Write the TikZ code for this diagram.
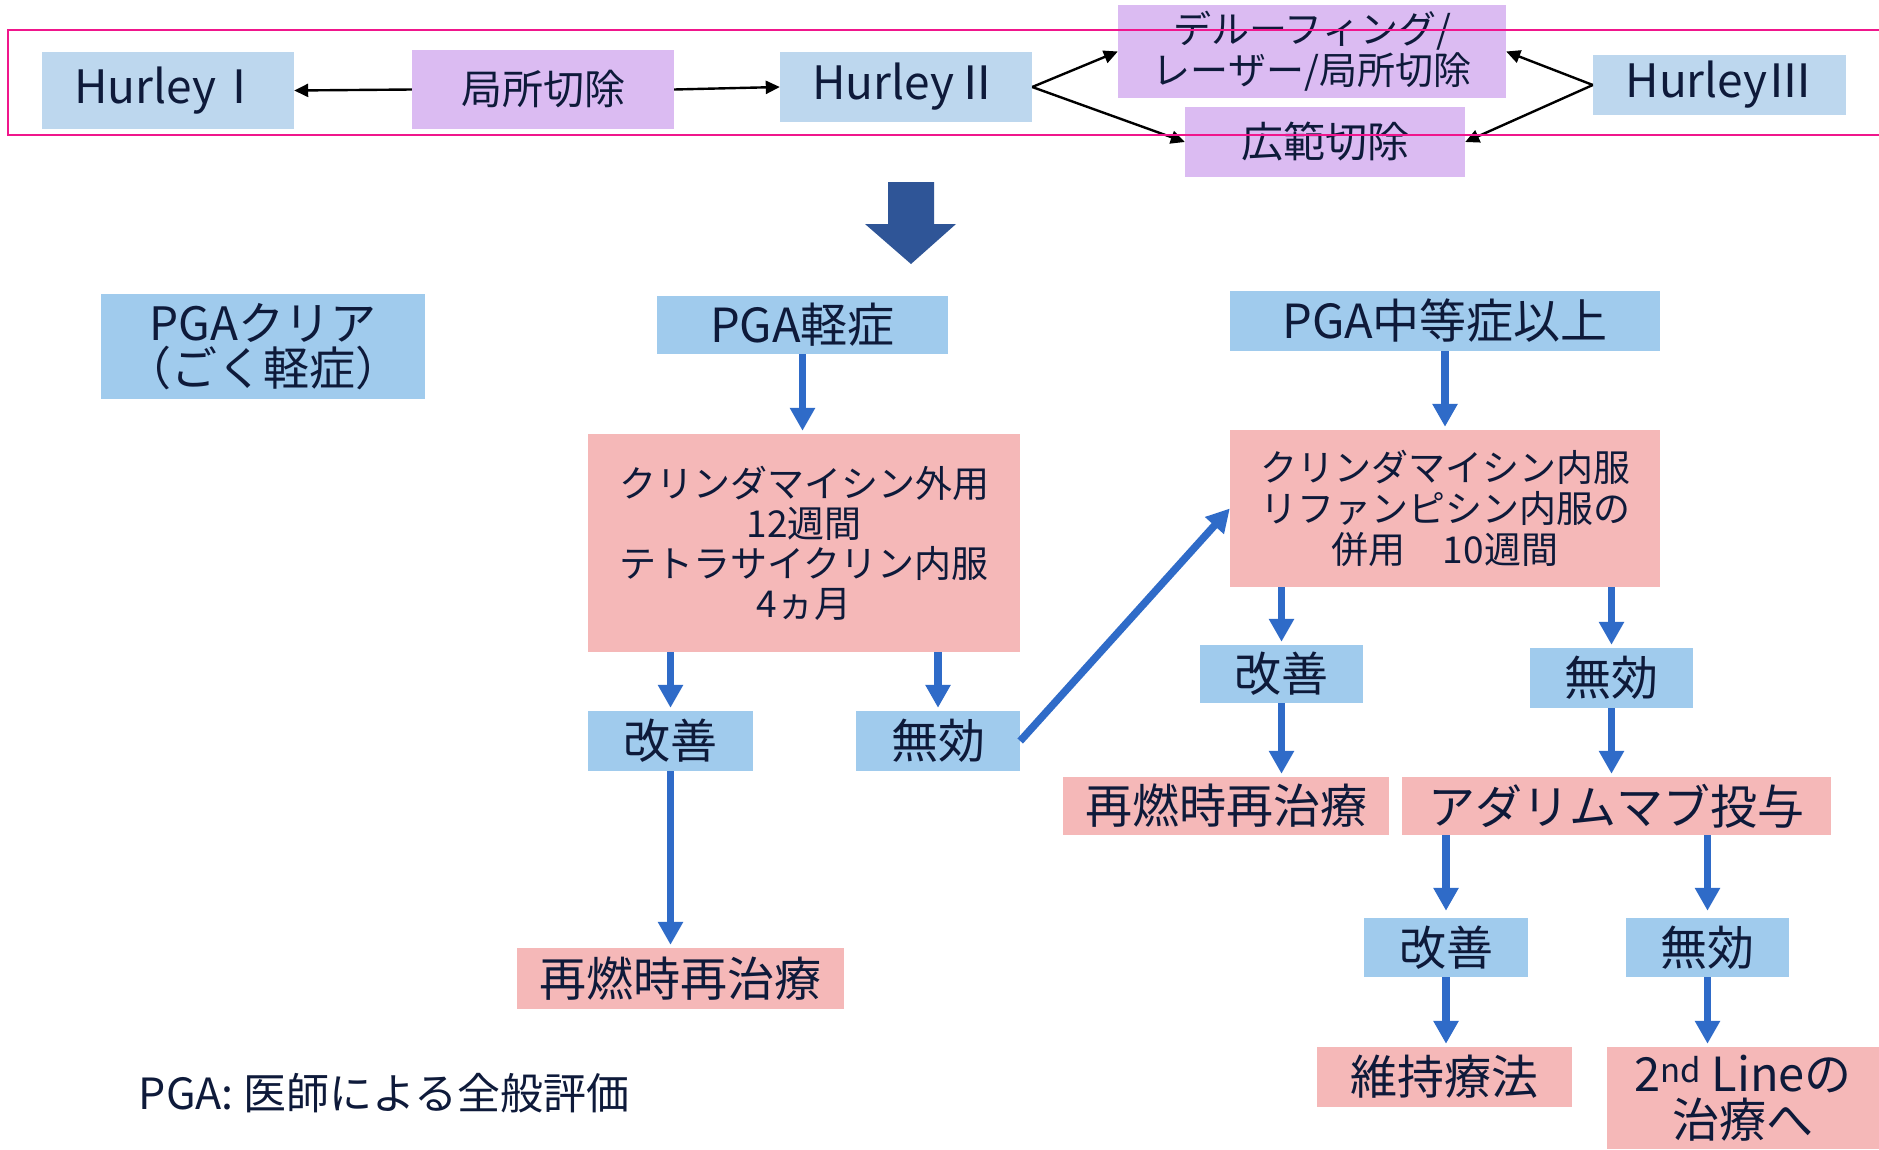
\documentclass[tikz,border=0pt]{standalone}
\usepackage{fontspec}
\setmainfont{Noto Sans CJK JP}
\usetikzlibrary{arrows.meta}
\definecolor{hblue}{HTML}{BDD7EE}
\definecolor{lblue}{HTML}{A0CBED}
\definecolor{purp}{HTML}{DBBBF2}
\definecolor{pinkf}{HTML}{F5B8B8}
\definecolor{txt}{HTML}{0E1A3A}
\definecolor{ablue}{HTML}{2F6BC8}
\definecolor{bigblue}{HTML}{2F5597}
\definecolor{frameline}{HTML}{F0168C}
\begin{document}
\begin{tikzpicture}[x=1pt,y=-1pt,
  base/.style={inner sep=0pt, text=txt, align=center},
  hbox/.style={base, fill=hblue, font=\fontsize{46}{48}\selectfont},
  pbox/.style={base, fill=purp},
  lbox/.style={base, fill=lblue, font=\fontsize{47}{48}\selectfont},
  rbox/.style={base, fill=pinkf, font=\fontsize{47}{48}\selectfont},
  sz/.style 2 args={minimum width=#1, minimum height=#2},
  barrow/.style={draw=ablue, line width=7.5pt, -{Triangle[width=24pt,length=23pt]}, shorten >=3pt},
  karrow/.style={draw=black, line width=2.4pt, -{Triangle[width=13pt,length=14pt]}},
]
\fill[white] (0,0) rectangle (1879,1149);
\useasboundingbox (0,0) rectangle (1879,1149);

% top row
\node[hbox, sz={252}{77}] (h1) at (168,90.5) {HurleyⅠ};
\node[pbox, sz={262}{79}, font=\fontsize{41}{44}\selectfont] (kyoku) at (543,89.5) {局所切除};
\node[hbox, sz={252}{70}] (h2) at (906,87) {HurleyⅡ};
\node[pbox, sz={388}{93}, font=\fontsize{38}{41}\selectfont] (deroof) at (1312,51.5) {デルーフィング/\\レーザー/局所切除};
\node[pbox, sz={280}{70}, font=\fontsize{42}{44}\selectfont] (kouhan) at (1325,142) {広範切除};
\node[hbox, sz={253}{60}] (h3) at (1719.5,85) {HurleyⅢ};

\draw[karrow] (kyoku.west) -- (h1.east);
\draw[karrow] (kyoku.east) -- (h2.west);
\draw[karrow] (h2.east) -- (deroof.west);
\draw[karrow] (h2.east) -- (kouhan.west);
\draw[karrow] (h3.west) -- (deroof.east);
\draw[karrow] (h3.west) -- (kouhan.east);

\draw[frameline, line width=2.8pt] (8,30) rectangle (1895,135);

% big arrow
\fill[bigblue] (888,182) -- (934,182) -- (934,224) -- (956,224) -- (911,264) -- (865,224) -- (888,224) -- cycle;

% PGA level
\node[lbox, sz={324}{105}, font=\fontsize{46}{45}\selectfont] (clear) at (263,346.5) {PGAクリア\\（ごく軽症）};
\node[lbox, sz={291}{58}] (mild) at (802.5,325) {PGA軽症};
\node[lbox, sz={430}{60}] (mod) at (1445,321) {PGA中等症以上};

\node[rbox, sz={432}{218}, font=\fontsize{37}{40}\selectfont] (box1) at (804,543) {クリンダマイシン外用\\12週間\\テトラサイクリン内服\\4ヵ月};
\node[rbox, sz={430}{157}, font=\fontsize{37}{41}\selectfont] (box2) at (1445,508.5) {クリンダマイシン内服\\リファンピシン内服の\\併用　10週間};

\node[lbox, sz={165}{60}] (kai1) at (670.5,741) {改善};
\node[lbox, sz={164}{60}] (mu1) at (938,741) {無効};
\node[rbox, sz={327}{61}] (sai1) at (680.5,978.5) {再燃時再治療};

\node[lbox, sz={163}{58}] (kai2) at (1281.5,674) {改善};
\node[lbox, sz={163}{60}] (mu2) at (1611.5,678) {無効};
\node[rbox, sz={326}{58}] (sai2) at (1226,806) {再燃時再治療};
\node[rbox, sz={429}{58}] (ada) at (1616.5,806) {アダリムマブ投与};

\node[lbox, sz={164}{59}] (kai3) at (1446,947.5) {改善};
\node[lbox, sz={163}{59}] (mu3) at (1707.5,947.5) {無効};
\node[rbox, sz={255}{60}] (iji) at (1444.5,1077) {維持療法};
\node[rbox, sz={272}{102}, font=\fontsize{47}{46}\selectfont] (second) at (1743,1098) {2\textsuperscript{nd} Lineの\\治療へ};

\node[base, font=\fontsize{43}{46}\selectfont] (note) at (384,1093) {PGA: 医師による全般評価};

% blue arrows
\draw[barrow] (mild.south) -- (mild.south |- box1.north);
\draw[barrow] (mod.south) -- (mod.south |- box2.north);
\draw[barrow] (box1.south -| kai1.north) -- (kai1.north);
\draw[barrow] (box1.south -| mu1.north) -- (mu1.north);
\draw[barrow] (kai1.south) -- (kai1.south |- sai1.north);
\draw[barrow, shorten >=0pt] (mu1.east) -- (box2.west);
\draw[barrow] (box2.south -| kai2.north) -- (kai2.north);
\draw[barrow] (box2.south -| mu2.north) -- (mu2.north);
\draw[barrow] (kai2.south) -- (kai2.south |- sai2.north);
\draw[barrow] (mu2.south) -- (mu2.south |- ada.north);
\draw[barrow] (ada.south -| kai3.north) -- ([yshift=4pt]kai3.north);
\draw[barrow] (ada.south -| mu3.north) -- ([yshift=4pt]mu3.north);
\draw[barrow] (kai3.south) -- (kai3.south |- iji.north);
\draw[barrow] (mu3.south) -- (mu3.south |- second.north);
\end{tikzpicture}
\end{document}
